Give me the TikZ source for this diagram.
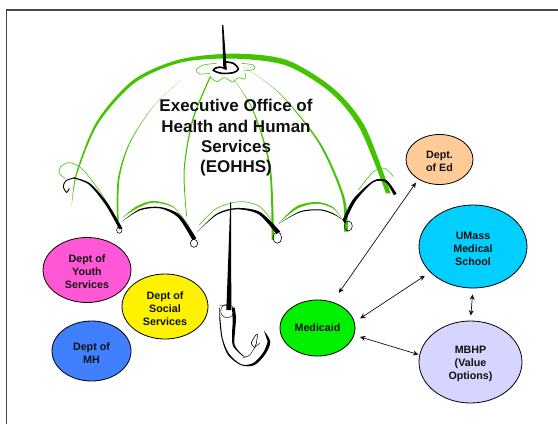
\documentclass[tikz,border=0pt]{standalone}
\usepackage{fontspec}
\setmainfont{Liberation Sans}
\usetikzlibrary{shapes.geometric,arrows.meta}
\definecolor{leaf}{HTML}{44C400}
\definecolor{inkc}{HTML}{111111}
\definecolor{framec}{HTML}{484848}
\definecolor{youthc}{HTML}{FF57D5}
\definecolor{mhc}{HTML}{4080FF}
\definecolor{medc}{HTML}{00F000}
\definecolor{edc}{HTML}{FFCC99}
\definecolor{umassc}{HTML}{00CFFF}
\definecolor{mbhpc}{HTML}{D5D5FF}
\newcommand{\taper}[3]{\fill[#1] plot[smooth] coordinates {#2} -- plot[smooth] coordinates {#3} -- cycle;}
\newcommand{\topup}{\rule{0pt}{12pt}}
\tikzset{
  org/.style={ellipse,draw=black,line width=.8pt,inner sep=0pt,align=center,text=inkc,
     font=\fontsize{10.7}{13}\selectfont\bfseries},
  link/.style={{Stealth[length=5.5pt,width=5pt]}-{Stealth[length=5.5pt,width=5pt]},line width=.7pt,draw=inkc},
  greenline/.style={draw=leaf,line width=.6pt},
  blackline/.style={draw=black,line width=.6pt},
  zoneA/.style={shift={(40,10)},x=.33333pt,y=-.33333pt},
  zoneB/.style={shift={(208,295)},x=.33333pt,y=-.33333pt}
}
\begin{document}
\begin{tikzpicture}[x=1pt,y=-1pt]
\useasboundingbox (0,0) rectangle (558,424);
\draw[framec,line width=1.3pt] (6.5,424) -- (6.5,10) -- (558,10);
\begin{scope}[zoneA]
  % canopy
  \taper{leaf}{(95,590) (108,490) (170,335) (280,210) (420,148) (585,131) (740,150) (880,235) (975,350) (1052,550)}
              {(1038,550) (960,357) (872,248) (740,167) (585,146) (425,157) (285,218) (175,340) (112,490) (95,590)}
  % ribs
  \taper{leaf}{(425,208) (340,290) (270,400) (238,510) (236,640)}
              {(231,640) (233,510) (267,400) (339,290) (425,208)}
  \taper{leaf}{(513,200) (460,330) (434,480) (441,620)}
              {(439,620) (431,480) (456,330) (509,200)}
  \taper{leaf}{(575,200) (640,300) (692,470) (702,690)}
              {(695,690) (687,470) (637,300) (575,200)}
  \taper{leaf}{(610,170) (720,250) (842,400) (913,560) (924,665)}
              {(912,665) (906,560) (836,400) (718,250) (610,170)}
  % green upper scallops
  \draw[greenline] plot[smooth] coordinates {(75,505) (58,490) (62,470) (90,458) (130,480) (190,560) (235,640)};
  \taper{leaf}{(245,625) (290,589) (340,573) (400,590) (450,650)}{(450,650) (400,593) (340,578) (293,594) (245,625)}
  \draw[greenline] plot[smooth] coordinates {(478,645) (530,595) (600,575) (660,590) (700,640)};
  \taper{leaf}{(715,640) (770,589) (830,576) (880,592) (915,640)}{(915,640) (880,596) (830,581) (773,595) (715,640)}
  \draw[greenline] plot[smooth] coordinates {(955,540) (1000,485) (1035,475) (1060,500)};
  % black scallops
  \draw[blackline,line width=.9pt] plot[smooth] coordinates {(88,535) (80,547) (70,530) (78,512) (105,503)};
  \taper{black}{(100,502) (150,520) (203,580) (247,655)}{(238,658) (197,585) (147,524) (100,505)}
  \taper{black}{(245,635) (300,597) (360,591) (420,615) (469,685)}{(457,690) (414,622) (360,595) (300,601) (245,635)}
  \taper{black}{(470,668) (530,611) (590,594) (660,606) (721,665)}{(709,672) (656,613) (590,598) (530,615) (470,668)}
  \taper{black}{(715,642) (780,604) (840,598) (880,610) (912,632)}{(912,632) (880,613) (840,601) (780,607) (715,642)}
  \taper{black}{(908,630) (940,567) (1000,512) (1040,511) (1070,552)}{(1061,555) (1037,517) (1000,517) (947,573) (914,640)}
  % tip loops
  \draw[blackline] (238,660) ellipse (8 and 10);
  \draw[blackline] (462,700) ellipse (11 and 12);
  \draw[blackline] (712,683) ellipse (13 and 17);
  \draw[blackline] (925,648) ellipse (12 and 15);
  % crown
  \draw[greenline] plot[smooth] coordinates {(510,190) (480,192) (468,180) (490,165) (530,160)};
  \draw[greenline] plot[smooth] coordinates {(510,200) (530,215) (553,203) (578,216) (595,203) (615,207) (615,188)};
  \draw[greenline] plot[smooth] coordinates {(605,160) (640,165) (642,178) (610,183)};
  \draw[black,line width=1.6pt] plot[smooth] coordinates {(560,178) (545,172) (530,173) (520,181) (545,190) (580,188) (595,177) (580,160) (552,155)};
  \fill[black] (546,45) -- (550,45) -- (560,175) -- (550,175) -- cycle;
\end{scope}
\begin{scope}[zoneB]
  \fill[black] (67,-279) -- (69,-279) -- (70,45) -- (55,45) -- cycle;
  \draw[black,line width=.4pt] (58,48) ellipse (20 and 20);
  \draw[black,line width=.4pt] (35,30) -- (62,33);
  \taper{black}{(35,30) (34,70) (41,130) (60,180) (100,211) (140,210) (173,176) (187,140) (168,107)}
               {(179,140) (166,172) (136,204) (100,208) (63,176) (44,130) (37,70) (35,30)}
  \taper{black}{(80,38) (84,70) (81,110) (80,150) (105,181) (125,186)}{(105,184) (76,155) (72,120) (74,80) (72,38)}
  \draw[black,line width=.4pt] plot[smooth] coordinates {(105,188) (125,180) (140,158) (155,145)};
  \draw[black,line width=.6pt] plot[smooth] coordinates {(140,158) (130,145) (140,125) (148,118) (145,145) (140,158)};
\end{scope}
\node[align=center,text=inkc,font=\fontsize{17}{20.3}\selectfont\bfseries] (title) at (236,138) {Executive Office of\\Health and Human\\Services\\(EOHHS)};
\node[org,fill=youthc,minimum width=88pt,minimum height=65pt] (youth) at (87,270) {\topup Dept of\\Youth\\Services};
\node[org,fill=yellow,minimum width=86pt,minimum height=65pt] (social) at (165,306.5) {\topup Dept of\\Social\\Services};
\node[org,fill=mhc,minimum width=79pt,minimum height=60pt] (mh) at (91.5,351) {\topup Dept of\\MH};
\node[org,fill=medc,minimum width=75pt,minimum height=56pt] (med) at (317.5,328) {Medicaid};
\node[org,fill=edc,minimum width=67pt,minimum height=50pt] (ed) at (439.5,159.5) {\topup Dept.\\of Ed};
\node[org,fill=umassc,minimum width=108pt,minimum height=83pt] (umass) at (473,246.5) {\topup UMass\\Medical\\School};
\node[org,fill=mbhpc,minimum width=103pt,minimum height=82pt] (mbhp) at (470.5,362) {\topup MBHP\\(Value\\Options)};
\draw[link,shorten <=11pt,shorten >=4pt] (med.60) -- (ed.223);
\draw[link,shorten <=6.6pt,shorten >=6.3pt] (med.9) -- (umass.211);
\draw[link,shorten <=6pt,shorten >=1pt] (med.349) -- (mbhp.172);
\draw[link,shorten <=6pt,shorten >=5pt] (umass.270) -- (mbhp.90);
\end{tikzpicture}
\end{document}
